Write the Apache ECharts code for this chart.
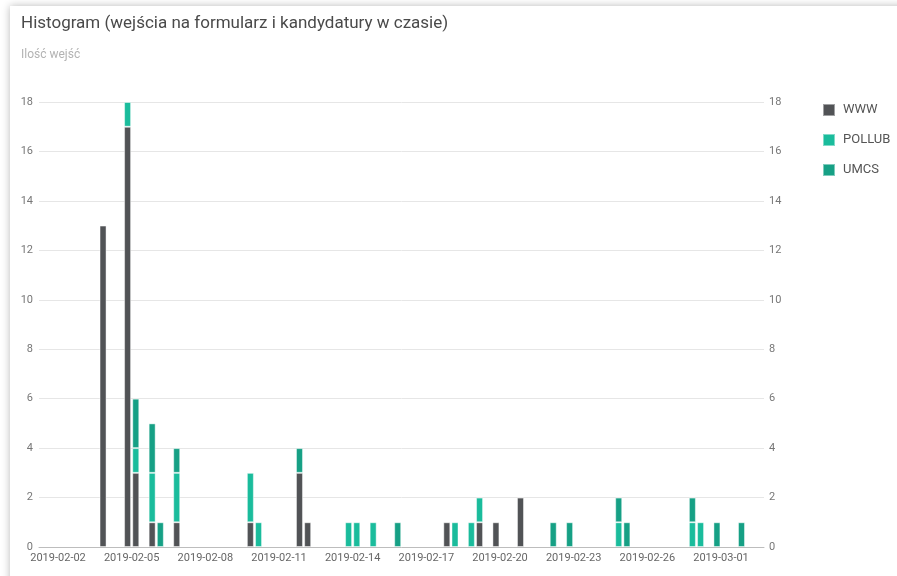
<!DOCTYPE html>
<html>
<head>
<meta charset="utf-8">
<script src="https://cdn.jsdelivr.net/npm/echarts@6/dist/echarts.min.js"></script>
<style>
  body { margin: 0; background: #fff; }
  #card { position: absolute; left: 10px; top: 6px; width: 900px; height: 580px; background: #fff; box-shadow: 0 0 8px rgba(0, 0, 0, 0.28); }
  #chart { position: absolute; left: 0; top: 0; width: 897px; height: 576px; }
</style>
</head>
<body>
<div id="card"></div>
<div id="chart"></div>
<script>
// środki 8-godzinnych przedziałów
var bins = [
  '2019-02-03 20:00', '2019-02-04 20:00', '2019-02-05 04:00', '2019-02-05 20:00',
  '2019-02-06 04:00', '2019-02-06 20:00', '2019-02-09 20:00', '2019-02-10 04:00',
  '2019-02-11 20:00', '2019-02-12 04:00', '2019-02-13 20:00', '2019-02-14 04:00',
  '2019-02-14 20:00', '2019-02-15 20:00', '2019-02-17 20:00', '2019-02-18 04:00',
  '2019-02-18 20:00', '2019-02-19 04:00', '2019-02-19 20:00', '2019-02-20 20:00',
  '2019-02-22 04:00', '2019-02-22 20:00', '2019-02-24 20:00', '2019-02-25 04:00',
  '2019-02-27 20:00', '2019-02-28 04:00', '2019-02-28 20:00', '2019-03-01 20:00'
];
var wwwValues    = [13, 17, 3, 1, 0, 1, 1, 0, 3, 1, 0, 0, 0, 0, 1, 0, 0, 1, 1, 2, 0, 0, 0, 0, 0, 0, 0, 0];
var pollubValues = [0, 1, 1, 2, 0, 2, 2, 1, 0, 0, 1, 1, 1, 0, 0, 1, 1, 1, 0, 0, 0, 0, 1, 0, 1, 1, 0, 0];
var umcsValues   = [0, 0, 2, 2, 1, 1, 0, 0, 1, 0, 0, 0, 0, 1, 0, 0, 0, 0, 0, 0, 1, 1, 1, 1, 1, 0, 1, 1];
var xTickLabels = ['2019-02-02', '2019-02-05', '2019-02-08', '2019-02-11', '2019-02-14',
  '2019-02-17', '2019-02-20', '2019-02-23', '2019-02-26', '2019-03-01'];
var xRange = ['2019-02-01 05:25', '2019-03-02 18:00'];
var seriesNames = ['WWW', 'POLLUB', 'UMCS'];
var colorList = ['#515356', '#1abc9c', '#16a085'];

var DAY = 86400000;
var base = Date.UTC(2019, 1, 2);
// data -> dni od 2019-02-02
function toDay(s) {
  var p = s.split(/[- :]/);
  var t = Date.UTC(+p[0], +p[1] - 1, +p[2], +(p[3] || 0), +(p[4] || 0));
  return (t - base) / DAY;
}
function pad(n) { return n < 10 ? '0' + n : '' + n; }
function dayLabel(v) {
  var d = new Date(base + Math.round(v) * DAY);
  return d.getUTCFullYear() + '-' + pad(d.getUTCMonth() + 1) + '-' + pad(d.getUTCDate());
}
// [ilość, dzień] - pierwszy wymiar to wartość, żeby stos liczył się na osi y
function toPoints(vals) {
  return vals.map(function (v, i) {
    var item = { value: [v, toDay(bins[i])] };
    if (v === 0) item.itemStyle = { borderWidth: 0, opacity: 0 };
    return item;
  });
}

var myChart = echarts.init(document.getElementById('chart'));
var yAxisCommon = {
  type: 'value',
  min: 0,
  max: 18,
  interval: 2,
  axisLine: { show: false },
  axisTick: { show: false }
};
var option = {
  animation: false,
  textStyle: { fontFamily: 'Roboto, sans-serif' },
  title: [
    {
      text: 'Histogram (wejścia na formularz i kandydatury w czasie)',
      left: 16,
      top: 10,
      textStyle: { fontSize: 17, fontWeight: 'normal', color: '#4a4a4a' }
    },
    {
      text: 'Ilość wejść',
      left: 16,
      top: 44,
      textStyle: { fontSize: 12, fontWeight: 'normal', color: '#b3b3b3' }
    }
  ],
  legend: {
    orient: 'vertical',
    left: 817,
    top: 98,
    itemWidth: 12,
    itemHeight: 12,
    itemGap: 16,
    icon: 'rect',
    textStyle: { fontSize: 13, color: '#555', padding: [0, 0, 0, 3] },
    data: seriesNames
  },
  grid: { left: 39, right: 133, top: 102, bottom: 29 },
  xAxis: {
    type: 'value',
    min: toDay(xRange[0]),
    max: toDay(xRange[1]),
    axisLine: { lineStyle: { color: '#bdbdbd' } },
    axisTick: { show: false },
    splitLine: { show: false },
    axisLabel: {
      customValues: xTickLabels.map(toDay),
      formatter: function (v) { return dayLabel(v); },
      color: '#666',
      fontSize: 11,
      margin: 6
    }
  },
  yAxis: [
    Object.assign({}, yAxisCommon, {
      position: 'left',
      splitLine: { lineStyle: { color: '#e6e6e6' } },
      axisLabel: { color: '#777', fontSize: 11, margin: 6 }
    }),
    Object.assign({}, yAxisCommon, {
      position: 'right',
      splitLine: { show: false },
      axisLabel: { color: '#777', fontSize: 11, margin: 5 }
    })
  ],
  series: [wwwValues, pollubValues, umcsValues].map(function (vals, i) {
    return {
      name: seriesNames[i],
      type: 'bar',
      stack: 'all',
      barWidth: 7,
      encode: { x: 1, y: 0 },
      itemStyle: {
        color: colorList[i],
        borderColor: 'rgba(255, 255, 255, 0.45)',
        borderWidth: 1
      },
      data: toPoints(vals)
    };
  })
};
myChart.setOption(option);
window.addEventListener('resize', function () {
  myChart.resize();
});
</script>
</body>
</html>
